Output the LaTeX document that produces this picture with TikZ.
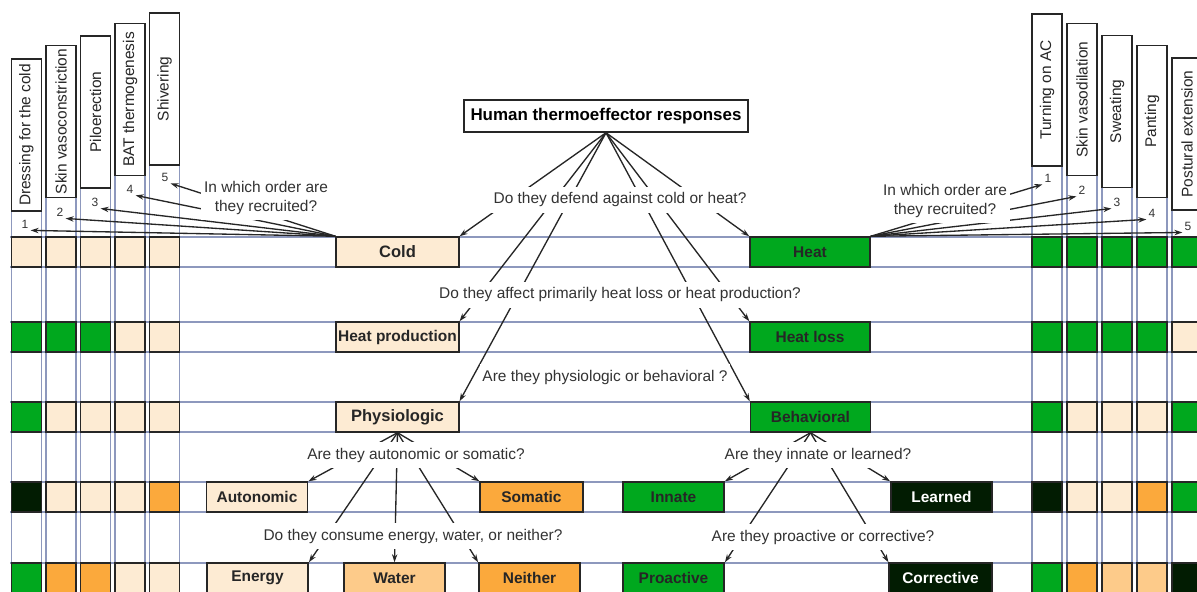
\documentclass[tikz,border=0pt]{standalone}
\usepackage{fontspec}
\setmainfont{Liberation Sans}
\usepackage{tikz}
\usetikzlibrary{arrows.meta}
\definecolor{peach}{HTML}{FDEBD3}
\definecolor{leafgreen}{HTML}{00A81E}
\definecolor{amber}{HTML}{FBA93C}
\definecolor{sand}{HTML}{FDCB8A}
\definecolor{nightgreen}{HTML}{021C02}
\definecolor{gridblue}{HTML}{8D98BD}

\begin{document}
\begin{tikzpicture}[x=0.75pt, y=-0.75pt,
                    grid_line/.style={draw=gridblue, line width=1pt},
                    cell/.style={draw=black!85, line width=1.1pt, minimum width=22.5pt, minimum height=22.5pt, inner sep=0pt},
                    col_label/.style={draw=black!85, line width=1.1pt, fill=white, rotate=90, minimum width=114pt, minimum height=22.5pt, inner sep=0pt, text=black!85, font=\fontsize{11.6}{13}\selectfont},
                    cat_box/.style={draw=black!85, line width=1.1pt, minimum height=22.5pt, inner sep=0pt, text=black!85, font=\bfseries\fontsize{11.6}{13}\selectfont},
                    mid_box/.style={cat_box, minimum width=92pt},
                    small_box/.style={cat_box, minimum width=76pt},
                    dark_box/.style={small_box, fill=nightgreen, text=white},
                    question/.style={fill=white, inner xsep=2pt, inner ysep=4pt, text=black!80, align=center, font=\fontsize{11.6}{14.5}\selectfont},
                    num_label/.style={inner sep=1.5pt, text=black!80, font=\fontsize{9}{10}\selectfont},
                    fan/.style={draw=black!85, line width=1pt},
                    pointer/.style={fan, -{Stealth[length=6pt, width=4pt]}}
                ]
                    \useasboundingbox (0,0) rectangle (1197,592);
                    \fill[white] (0,0) rectangle (1197,592);

                    \foreach \y in {252,337,417,497,578}
                        \draw[grid_line] (10,\y-15) -- (1197,\y-15) (10,\y+15) -- (1197,\y+15);
                    \foreach \cx/\top in {26.5/59, 61/45.5, 95.5/36, 130/23.5, 164.5/13, 1047/14, 1082/23.5, 1117/35.5, 1152/45.5, 1187/58}
                        \draw[grid_line] (\cx-15,\top) -- (\cx-15,600) (\cx+15,\top) -- (\cx+15,600);

                    \foreach \cx/\cy/\txt [count=\i] in {26.5/135/Dressing for the cold, 61/121.5/Skin vasoconstriction, 95.5/112/Piloerection, 130/99.5/BAT thermogenesis, 164.5/89/Shivering}
                        \node[col_label] (cl\i) at (\cx,\cy) {\txt};
                    \foreach \cx/\cy/\txt [count=\i] in {1047/90/Turning on AC, 1082/99.5/Skin vasodilation, 1117/111.5/Sweating, 1152/121.5/Panting, 1187/134/Postural extension}
                        \node[col_label] (cr\i) at (\cx,\cy) {\txt};

                    \foreach \y/\fills [count=\r] in {252/{peach,peach,peach,peach,peach}, 337/{leafgreen,leafgreen,leafgreen,peach,peach}, 417/{leafgreen,peach,peach,peach,peach}, 497/{nightgreen,peach,peach,peach,amber}, 578/{leafgreen,amber,amber,peach,peach}}
                        \foreach \f [count=\i] in \fills
                            \node[cell, fill=\f] (L\r-\i) at ({26.5+34.5*(\i-1)},\y) {};
                    \foreach \y/\fills [count=\r] in {252/{leafgreen,leafgreen,leafgreen,leafgreen,leafgreen}, 337/{leafgreen,leafgreen,leafgreen,leafgreen,peach}, 417/{leafgreen,peach,peach,peach,leafgreen}, 497/{nightgreen,peach,peach,amber,leafgreen}, 578/{leafgreen,amber,sand,sand,nightgreen}}
                        \foreach \f [count=\i] in \fills
                            \node[cell, fill=\f] (R\r-\i) at ({1047+35*(\i-1)},\y) {};

                    \node[draw=black!85, line width=1.1pt, fill=white, minimum width=213pt, minimum height=24pt, font=\bfseries\fontsize{12.7}{15}\selectfont] (title) at (606,116) {Human thermoeffector responses};

                    \node[mid_box, fill=peach, font=\bfseries\fontsize{12.4}{14}\selectfont] (cold) at (397.5,252) {Cold};
                    \node[mid_box, fill=leafgreen, minimum width=90pt] (heat) at (810,252) {Heat};
                    \node[mid_box, fill=peach] (heat_prod) at (397.5,337) {Heat production};
                    \node[mid_box, fill=leafgreen, minimum width=90pt] (heat_loss) at (810,337) {Heat loss};
                    \node[mid_box, fill=peach, font=\bfseries\fontsize{12.4}{14}\selectfont] (physio) at (397.5,417) {Physiologic};
                    \node[mid_box, fill=leafgreen, minimum width=90pt] (behav) at (810.5,417) {Behavioral};

                    \node[small_box, fill=peach] (auton) at (257,497) {Autonomic};
                    \node[small_box, fill=amber, minimum width=77pt] (somat) at (531.5,497) {Somatic};
                    \node[small_box, fill=leafgreen] (innate) at (673.5,497) {Innate};
                    \node[dark_box] (learned) at (941.5,497) {Learned};
                    \node[small_box, fill=peach] (energy) at (257.5,578) {Energy};
                    \node[small_box, fill=sand] (water) at (394.5,578) {Water};
                    \node[small_box, fill=amber] (neither) at (529.5,578) {Neither};
                    \node[small_box, fill=leafgreen] (proact) at (673.5,578) {Proactive};
                    \node[dark_box, minimum width=77pt] (correct) at (940.5,578) {Corrective};

                    \foreach \nx/\ny [count=\k] in {25/224, 60/212, 95/202, 130/189, 165/177}
                        \node[num_label] (n\k) at (\nx,\ny) {\k};
                    \foreach \nx/\ny [count=\k] in {1048/178, 1082/190, 1117/202, 1152/213, 1188/226}
                        \node[num_label] (m\k) at (\nx,\ny) {\k};

                    \foreach \k in {1,...,5}
                        \draw[pointer] (cold.north west) -- (n\k.south east);
                    \foreach \k in {1,...,5}
                        \draw[pointer] (heat.north east) -- (m\k.south west);

                    \draw[pointer] (title.south) -- (cold.north east);
                    \draw[pointer] (title.south) -- (heat.north west);
                    \draw[pointer] (title.south) -- (heat_prod.north east);
                    \draw[pointer] (title.south) -- (heat_loss.north west);
                    \draw[pointer] (title.south) -- (physio.north east);
                    \draw[pointer] (title.south) -- (behav.north west);

                    \draw[pointer] (physio.south) -- (auton.north east);
                    \draw[pointer] (physio.south) -- (somat.north west);
                    \draw[pointer] (physio.south) -- (energy.north east);
                    \draw[pointer] (physio.south) -- (water.north);
                    \draw[pointer] (physio.south) -- (neither.north west);

                    \draw[pointer] (behav.south) -- (innate.north east);
                    \draw[pointer] (behav.south) -- (learned.north west);
                    \draw[pointer] (behav.south) -- (proact.north east);
                    \draw[pointer] (behav.south) -- (correct.north west);

                    \node[question] (q_order_l) at (266,198) {In which order are\\they recruited?};
                    \node[question] (q_order_r) at (945,201) {In which order are\\they recruited?};
                    \node[question] (q_side) at (620,200) {Do they defend against cold or heat?};
                    \node[question] (q_flux) at (620,295) {Do they affect primarily heat loss or heat production?};
                    \node[question] (q_kind) at (605,377) {Are they physiologic or behavioral ?};
                    \node[question] (q_auto) at (416,455) {Are they autonomic or somatic?};
                    \node[question] (q_cost) at (413,536) {Do they consume energy, water, or neither?};
                    \node[question] (q_learn) at (818,455) {Are they innate or learned?};
                    \node[question] (q_timing) at (823,537) {Are they proactive or corrective?};
                \end{tikzpicture}
\end{document}
